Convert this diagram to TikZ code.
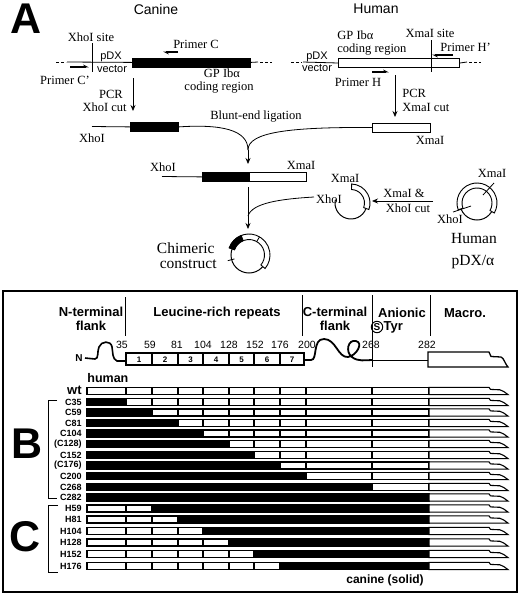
\documentclass[tikz,border=0pt]{standalone}
\usepackage{fontspec}
\setmainfont{Liberation Serif}
\setsansfont{Liberation Sans}
\usetikzlibrary{arrows.meta,calc}
\newcommand\protrow[5]{%
  % #1 name, #2 label, #3 y, #4 black start, #5 black end
  \fill[black] (86,#3-4.2) rectangle (430,#3+4.2);
  \foreach \a/\b in {87/126,126/152,152/178,178/203,203/229,229/254,254/280,280/306,306/372,372/429}{%
    \pgfmathtruncatemacro\isblack{(\a>=#4 && \b<=#5) ? 1 : 0}%
    \ifnum\isblack=0 \fill[white] (\a+1.2,#3-2.9) rectangle (\b-1.2,#3+2.9);\fi
  }
  \filldraw[fill=white,draw=black,line width=1.1pt] (429,#3-3.6) -- (489,#3-3.6) -- (490.5,#3-1.6) -- (500,#3-1.2) .. controls (503,#3-1) and (505,#3+2) .. (508,#3+3.6) -- (429,#3+3.6) -- cycle;
  \node[rlab] (l#1) at (82,#3) {#2};
}
\begin{document}
\begin{tikzpicture}[x=1pt,y=-1pt,line width=0.8pt,
  lab/.style={font=\fontsize{12.5}{12.5}\selectfont, inner sep=0pt},
  big/.style={font=\fontsize{15.5}{15.5}\selectfont, inner sep=0pt},
  sf/.style={font=\sffamily\fontsize{11}{11}\selectfont, inner sep=0pt},
  title/.style={font=\sffamily\fontsize{14}{14}\selectfont, inner sep=0pt},
  hdr/.style={font=\sffamily\bfseries\fontsize{13}{14.5}\selectfont, inner sep=0pt, align=center},
  num/.style={font=\sffamily\fontsize{10.5}{10.5}\selectfont, inner sep=0pt},
  bnum/.style={font=\sffamily\bfseries\fontsize{8}{8}\selectfont, inner sep=0pt},
  rlab/.style={font=\sffamily\bfseries\fontsize{9}{9}\selectfont, inner sep=0pt, anchor=east},
  letter/.style={font=\sffamily\bfseries\fontsize{43}{43}\selectfont, inner sep=0pt, anchor=base},
  arr/.style={-{Stealth[length=6pt,width=5pt]}, line width=0.8pt},
  primer/.style={line width=2pt, -{Stealth[harpoon,length=5pt,width=5pt]}},
  blackbox/.style={draw, fill=black, inner sep=0pt, anchor=north west},
  whitebox/.style={draw, fill=white, inner sep=0pt, anchor=north west, line width=1pt},
  dsh/.style={dash pattern=on 3pt off 2pt},
]
\useasboundingbox (0,0) rectangle (520,595);
% ---------------- Panel A ----------------
\node[letter] (A) at (26,33) {A};
\node[title] (canine) at (156,9) {Canine};
\node[title] (human) at (376,9) {Human};
% canine vector
\draw[dsh] (56,62) -- (66,62);
\coordinate (cl0) at (67,62);
\node[blackbox, minimum width=118pt, minimum height=9pt] (cbox) at (132,57.5) {};
\draw (cl0) -- (cbox.west);
\coordinate (cr0) at (258,62);
\draw (cbox.east) -- (cr0);
\draw[dsh] (260,62) -- (272,62);
\coordinate (xs1) at (92,43); \coordinate (xs2) at (92,72);
\draw (xs1) -- (xs2);
\node[lab] (xhosite) at (91,37) {XhoI site};
\node[lab] (primc) at (196,44) {Primer C};
\coordinate (pc1) at (178,52); \coordinate (pc2) at (163,52);
\draw[primer] (pc1) -- (pc2);
\node[sf] (pdx1) at (111,57) {pDX};
\node[sf] (vec1) at (112,69) {vector};
\node[lab] (primcp) at (65,80) {Primer C'};
\coordinate (pcp1) at (70,67); \coordinate (pcp2) at (89,67);
\draw[primer] (pcp1) -- (pcp2);
\node[lab] (gp1) at (222,73) {GP Ibα};
\node[lab] (cr1) at (219,88) {coding region};
\coordinate (pcr1a) at (133,78); \coordinate (pcr1b) at (133,111);
\draw[arr] (pcr1a) -- (pcr1b);
\node[lab] (pcr1) at (111,94) {PCR};
\node[lab, anchor=east] (xcut) at (127,107) {XhoI cut};
\node[lab] (blunt) at (256,117) {Blunt-end ligation};
% human vector
\draw[dsh] (291,62) -- (302,62);
\coordinate (hl0) at (303,62);
\node[whitebox, minimum width=121pt, minimum height=9pt] (hbox) at (338,58) {};
\draw (hl0) -- (hbox.west);
\coordinate (hr0) at (467,62);
\draw (hbox.east) -- (hr0);
\draw[dsh] (469,62) -- (481,62);
\node[sf] (pdx2) at (317,56.5) {pDX};
\node[sf] (vec2) at (317,68) {vector};
\node[lab, anchor=west] (gp2) at (337,35) {GP Ibα};
\node[lab, anchor=west] (cr2) at (337,50) {coding region};
\node[lab] (xmasite) at (430,33) {XmaI site};
\coordinate (xm1) at (431,40); \coordinate (xm2) at (431,72);
\draw (xm1) -- (xm2);
\node[lab, anchor=west] (primhp) at (440,47) {Primer H'};
\coordinate (ph1) at (453,55); \coordinate (ph2) at (432,55);
\draw[primer] (ph1) -- (ph2);
\coordinate (phh1) at (372,72); \coordinate (phh2) at (389,72);
\draw[primer] (phh1) -- (phh2);
\node[lab] (primh) at (358,82) {Primer H};
\coordinate (pcr2a) at (395,75); \coordinate (pcr2b) at (395,117);
\draw[arr] (pcr2a) -- (pcr2b);
\node[lab, anchor=west] (pcr2) at (402,93) {PCR};
\node[lab, anchor=west] (xmcut) at (402,107) {XmaI cut};
% PCR products
\coordinate (cp0) at (92,126.5);
\node[blackbox, minimum width=48pt, minimum height=9pt] (cprod) at (130,122) {};
\draw (cp0) -- (cprod.west);
\node[lab] (xho2) at (92,138) {XhoI};
\node[whitebox, minimum width=58pt, minimum height=9pt] (hprod) at (372,122.5) {};
\node[lab] (xma2) at (430,140) {XmaI};
\coordinate (m1) at (248,150);
\coordinate (m1t) at (248,164);
\draw (cprod.east) .. controls (222,124) and (248,130) .. (m1);
\draw (hprod.west) .. controls (290,127) and (248,132) .. (m1);
\draw[arr] (m1) -- (m1t);
% chimeric linear
\node[lab] (xho3) at (163,167) {XhoI};
\node[lab] (xma3) at (301,165) {XmaI};
\coordinate (ch0) at (162,176.5);
\node[blackbox, minimum width=47pt, minimum height=9pt] (chb) at (202,172) {};
\node[whitebox, minimum width=57pt, minimum height=9pt] (chw) at (249,172) {};
\draw (ch0) -- (chb.west);
\coordinate (m2a) at (248,187);
\coordinate (m2) at (248,216);
\coordinate (m2t) at (248,229);
\draw (m2a) -- (m2);
\draw[arr] (m2) -- (m2t);
% chimeric circle
\coordinate (cc) at (249,255);
\draw[line width=1pt] (cc) circle (18);
\filldraw[fill=white, line width=0.9pt] ($(cc)+(-160:21)$) arc[start angle=-160,end angle=40,radius=21] -- ($(cc)+(40:15.5)$) arc[start angle=40,end angle=-160,radius=15.5] -- cycle;
\filldraw[fill=black, line width=0.9pt] ($(cc)+(-160:21)$) arc[start angle=-160,end angle=-112,radius=21] -- ($(cc)+(-112:15.5)$) arc[start angle=-112,end angle=-160,radius=15.5] -- cycle;
\draw ($(cc)+(-60:15.5)$) -- ($(cc)+(-60:21)$);
\draw ($(cc)+(165:15)$) -- ($(cc)+(165:22)$);
\node[big, anchor=east] (chim) at (215,248) {Chimeric};
\node[big, anchor=east] (constr) at (217,264) {construct};
% cut plasmid
\coordinate (cp) at (351,203);
\draw[line width=1pt] ($(cp)+(20:16)$) arc[start angle=20,end angle=192,radius=16];
\filldraw[fill=white, line width=0.9pt] ($(cp)+(-88:19)$) arc[start angle=-88,end angle=20,radius=19] -- ($(cp)+(20:13.5)$) arc[start angle=20,end angle=-88,radius=13.5] -- cycle;
\node[lab] (xma4) at (345,178) {XmaI};
\node[lab] (xho4) at (329,199) {XhoI};
\coordinate (c4s) at (314,197);
\draw (c4s) .. controls (280,199) and (252,203) .. (m2);
\coordinate (cut1) at (433,201); \coordinate (cut2) at (372,201);
\draw[arr] (cut1) -- (cut2);
\node[lab] (cutl1) at (404,193) {XmaI \&};
\node[lab] (cutl2) at (408,208) {XhoI cut};
% human plasmid
\coordinate (hp) at (477,203);
\draw[line width=1pt] (hp) circle (17);
\filldraw[fill=white, line width=0.9pt] ($(hp)+(-200:20)$) arc[start angle=-200,end angle=30,radius=20] -- ($(hp)+(30:15)$) arc[start angle=30,end angle=-200,radius=15] -- cycle;
\coordinate (hx1) at (483,195); \coordinate (hx2) at (494,183);
\draw (hx1) -- (hx2);
\coordinate (hy1) at (453,212); \coordinate (hy2) at (471,206);
\draw (hy1) -- (hy2);
\node[lab] (xma5) at (492,173) {XmaI};
\node[lab] (xho5) at (450,219) {XhoI};
\node[big] (hum2) at (474,238) {Human};
\node[big] (pdxa) at (473,262) {pDX/α};
% ---------------- Panel B/C ----------------
\draw[line width=1.5pt] (3,291) rectangle (517,592);
\node[hdr] (hN) at (91,319) {N-terminal\\flank};
\node[hdr] (hL) at (217,313) {Leucine-rich repeats};
\node[hdr] (hC) at (335,319) {C-terminal\\flank};
\node[hdr] (hA) at (402,313) {Anionic};
\node[hdr] (hM) at (465,313) {Macro.};
\node[draw, circle, line width=1pt, inner sep=0.6pt, font=\sffamily\bfseries\fontsize{10}{10}\selectfont] (sS) at (377,327) {S};
\node[hdr, anchor=west] (tyr) at (sS.east) {Tyr};
\draw[line width=1pt] (125,297) -- (125,336);
\draw[line width=1pt] (302,295) -- (302,336);
\draw[line width=1pt] (372,295) -- (372,367);
\draw[line width=1pt] (430,295) -- (430,336);
% numbers
\foreach \xx/\tt in {122/35,150/59,177/81,203/104,229/128,255/152,280/176,307/200,371/268,427/282}{
  \node[num] (n\tt) at (\xx,345) {\tt};
}
% protein
\node[font=\sffamily\bfseries\fontsize{10}{10}\selectfont, inner sep=0pt] (Nt) at (79,358) {N};
\draw[line width=1.6pt] (Nt.east) ++(2,0) -- (95,359) .. controls (99,359) and (97,351) .. (99,347) .. controls (101,341) and (111,340) .. (112,347) .. controls (113,352) and (112,359) .. (117,361) -- (126,361);
\foreach \a/\b/\k in {126/152/1,152/178/2,178/203/3,203/229/4,229/254/5,254/280/6,280/304/7}{
  \draw[line width=1.2pt, fill=white] (\a,353) rectangle (\b,365);
  \node[bnum] (r\k) at ({(\a+\b)/2},359.5) {\k};
}
\draw[line width=1.8pt] (304,360) -- (311,360) .. controls (318,360) and (312,339) .. (324,339) .. controls (336,339) and (338,358) .. (348,357) .. controls (356,356) and (364,343) .. (356,341) .. controls (348,339) and (345,352) .. (352,357) .. controls (358,362) and (366,360) .. (372,360);
\draw (372,360) -- (428,360);
\draw[line width=1.3pt, fill=white] (428,352) -- (489,352) -- (491,356.5) -- (501,357) .. controls (504,358) and (505,364) .. (508,367) -- (428,367) -- cycle;
% rows
\node[font=\sffamily\bfseries\fontsize{12.5}{12.5}\selectfont, inner sep=0pt, anchor=west] (humanlab) at (87,378) {human};
\protrow{wt}{}{391}{0}{0}
\node[font=\sffamily\bfseries\fontsize{13}{13}\selectfont, inner sep=0pt, anchor=east] (lwtx) at (82,390) {wt};
\protrow{C35}{C35}{402}{87}{126}
\protrow{C59}{C59}{412.5}{87}{152}
\protrow{C81}{C81}{423}{87}{178}
\protrow{C104}{C104}{433.5}{87}{203}
\protrow{C128}{(C128)}{444}{87}{229}
\protrow{C152}{C152}{455}{87}{254}
\protrow{C176}{(C176)}{465.5}{87}{280}
\protrow{C200}{C200}{476}{87}{306}
\protrow{C268}{C268}{487}{87}{372}
\protrow{C282}{C282}{497.5}{87}{429}
\protrow{H59}{H59}{508.5}{152}{429}
\protrow{H81}{H81}{519.5}{178}{429}
\protrow{H104}{H104}{531}{203}{429}
\protrow{H128}{H128}{542.5}{229}{429}
\protrow{H152}{H152}{554}{254}{429}
\protrow{H176}{H176}{566}{280}{429}
% brackets
\draw[line width=1pt] (57,400) -- (48,400) -- (48,498) -- (57,498);
\draw[line width=1pt] (58,505) -- (48,505) -- (48,572) -- (58,572);
\node[letter] (B) at (27,458) {B};
\node[letter] (C) at (25,551) {C};
\node[font=\sffamily\bfseries\fontsize{12}{12}\selectfont, inner sep=0pt] (can) at (385,580) {canine (solid)};
\end{tikzpicture}
\end{document}
